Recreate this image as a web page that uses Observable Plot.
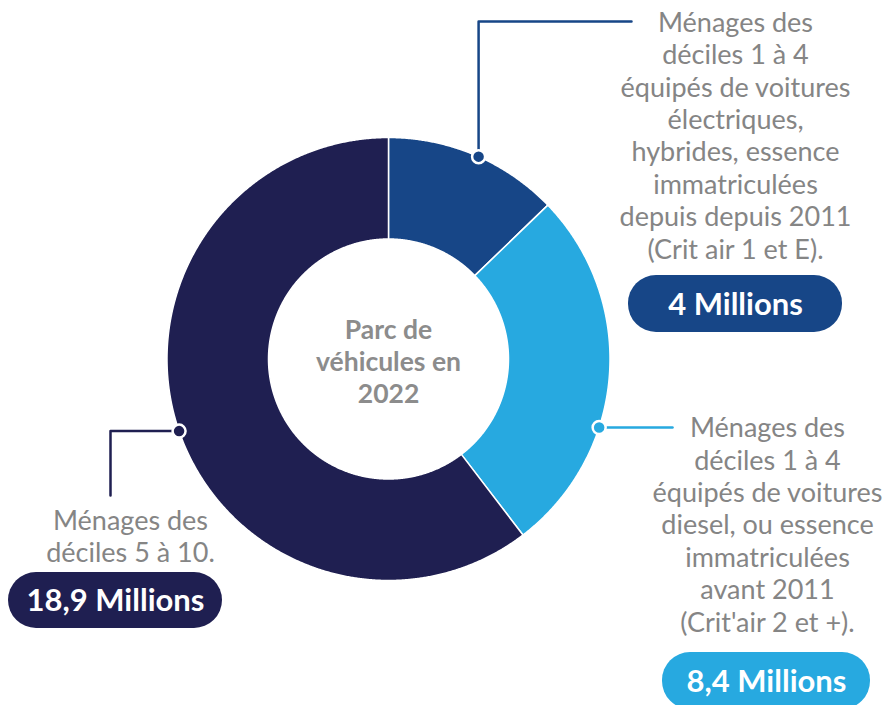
<!DOCTYPE html>
<html><head><meta charset="utf-8">
<script src="https://cdn.jsdelivr.net/npm/d3@7"></script>
<script src="https://cdn.jsdelivr.net/npm/@observablehq/plot@0.6"></script>
<style>html,body{margin:0;padding:0;background:#fff}#chart svg{display:block}</style>
</head><body><div id="chart"></div>
<script>
// ---- data ----
const categories = ["Déciles 1 à 4 – Crit'air 1 et E", "Déciles 1 à 4 – Crit'air 2 et +", "Déciles 5 à 10"];
const values = [4, 8.4, 18.9];
const valueLabels = ["4 Millions", "8,4 Millions", "18,9 Millions"];
const descriptions = [
  "Ménages des\ndéciles 1 à 4\néquipés de voitures\nélectriques,\nhybrides, essence\nimmatriculées\ndepuis depuis 2011\n(Crit air 1 et E).",
  "Ménages des\ndéciles 1 à 4\néquipés de voitures\ndiesel, ou essence\nimmatriculées\navant 2011\n(Crit'air 2 et +).",
  "Ménages des\ndéciles 5 à 10."
];
const centerLabel = "Parc de\nvéhicules en\n2022";

// ---- style / layout ----
const colors = ["#174687", "#27a9e0", "#1f1f51"];
const W = 889, H = 705, CX = 388, CY = 358.5, R_OUT = 221.5, R_IN = 120;
const anchorAngles = [24, 108, 251];           // where each leader dot sits (deg, clockwise from top)
const textPos = [[735, 134.4], [767, 523.5], [130, 535]];
const pillBox = [[628, 842, 275, 332], [662, 870, 652, 709], [8, 222, 572, 628]];
const FONT = "Lato, 'Open Sans', sans-serif";

const pie = d3.pie().sort(null).value(d => d)(values);
const polar = (a, r) => ({x: CX + r * Math.sin(a), y: CY - r * Math.cos(a)});

const slices = pie.map((p, i) => {
  const pts = [];
  const n = Math.max(8, Math.ceil((p.endAngle - p.startAngle) / 0.005));
  for (let k = 0; k <= n; k++) pts.push(polar(p.startAngle + (p.endAngle - p.startAngle) * k / n, R_OUT));
  for (let k = n; k >= 0; k--) pts.push(polar(p.startAngle + (p.endAngle - p.startAngle) * k / n, R_IN));
  pts.push(pts[0]);
  return pts;
});

const dots = anchorAngles.map((deg, i) => ({...polar(deg * Math.PI / 180, R_OUT), i}));
const leaders = [
  [dots[0], {x: dots[0].x, y: 21}, {x: 631, y: 21}],
  [dots[1], {x: 672, y: dots[1].y}],
  [dots[2], {x: 110, y: dots[2].y}, {x: 110, y: 495}]
];

const labels = descriptions.map((t, i) => ({text: t, x: textPos[i][0], y: textPos[i][1]}));
const pills = valueLabels.map((t, i) => ({text: t, x1: pillBox[i][0], x2: pillBox[i][1], y1: pillBox[i][2], y2: pillBox[i][3], i}));

const marks = [];
slices.forEach((pts, i) => marks.push(Plot.line(pts, {x: "x", y: "y", fill: colors[i], stroke: "white", strokeWidth: 1.5, curve: "linear"})));
leaders.forEach((pts, i) => marks.push(Plot.line(pts, {x: "x", y: "y", stroke: colors[i], strokeWidth: 2.5, curve: "linear"})));
dots.forEach((d, i) => marks.push(Plot.dot([d], {x: "x", y: "y", r: 6.5, fill: colors[i], stroke: "white", strokeWidth: 2.5})));
marks.push(Plot.text([centerLabel], {x: () => CX, y: () => CY + 1.5, text: d => d, fontSize: 26.5, fontWeight: 700, fill: "#8c8c8c", lineHeight: 1.21, fontFamily: FONT}));
marks.push(Plot.text(labels, {x: "x", y: "y", text: "text", fontSize: 27, fill: "#858585", lineHeight: 1.2, fontFamily: FONT}));
pills.forEach((p, i) => {
  marks.push(Plot.rect([p], {x1: "x1", x2: "x2", y1: "y1", y2: "y2", fill: colors[i], rx: 28}));
  marks.push(Plot.text([p], {x: d => (d.x1 + d.x2) / 2, y: d => (d.y1 + d.y2) / 2 + 1, text: "text", fill: "white", fontSize: 31, fontWeight: 700, fontFamily: FONT}));
});

const chart = Plot.plot({
  width: W, height: H, margin: 0,
  style: {background: "white", fontFamily: FONT},
  x: {type: "linear", domain: [0, W], range: [0, W], axis: null},
  y: {type: "linear", domain: [0, H], range: [0, H], axis: null},
  marks
});
document.getElementById("chart").append(chart);
</script></body></html>
